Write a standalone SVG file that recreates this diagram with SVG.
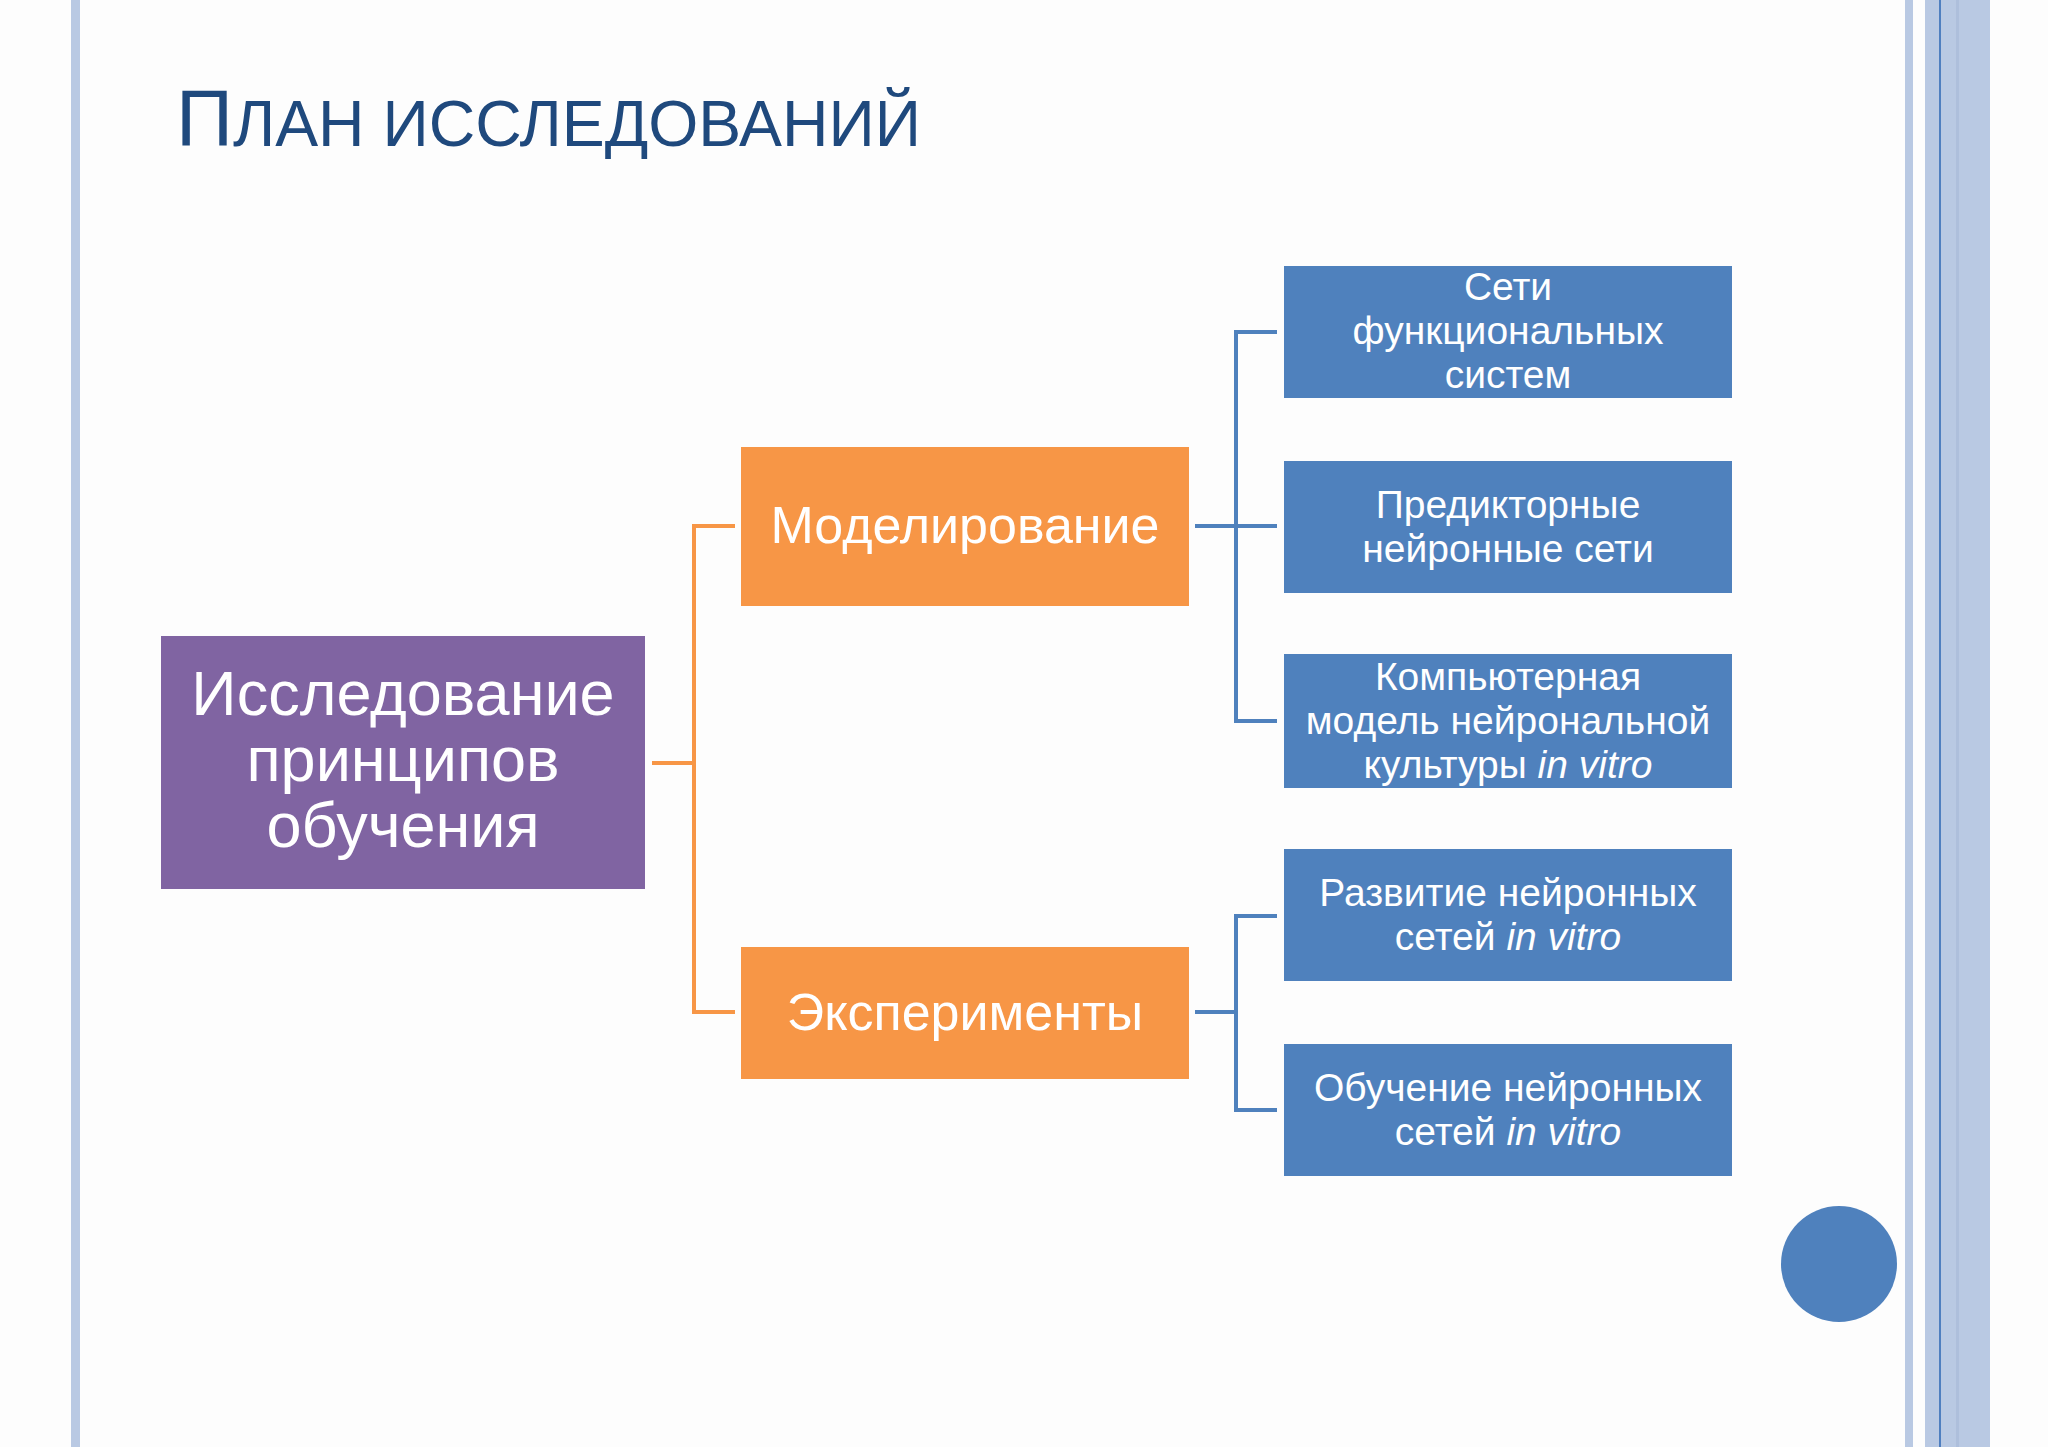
<svg xmlns="http://www.w3.org/2000/svg" width="2048" height="1447" viewBox="0 0 2048 1447">
<style>
.t{font-family:"Liberation Sans",Arial,sans-serif;fill:#fff;text-anchor:middle}
.b{font-size:39px}
.c{fill:none;stroke-width:4}
</style>
<rect width="2048" height="1447" fill="#fdfdfd"/>
<rect x="71" y="0" width="9" height="1447" fill="#b9c9e3"/>
<rect x="1905" y="0" width="8" height="1447" fill="#b9c9e3"/>
<rect x="1925" y="0" width="65" height="1447" fill="#b9c9e3"/>
<rect x="1939" y="0" width="2" height="1447" fill="#4f7fc0"/>
<rect x="1956" y="0" width="3" height="1447" fill="#aebfdc"/>
<text x="176" y="146" font-family="Liberation Sans,Arial,sans-serif" fill="#1f497d" textLength="745" lengthAdjust="spacingAndGlyphs"><tspan font-size="80">П</tspan><tspan font-size="65">ЛАН ИССЛЕДОВАНИЙ</tspan></text>
<g id="connectors">
<path class="c" stroke="#f79646" d="M652 763H694M735 526H694V1012H735"/>
<path class="c" stroke="#4f81bd" d="M1195 526H1277M1277 332H1236V721H1277M1195 1012H1236M1277 916H1236V1110H1277"/>
</g>
<g id="root"><rect x="161" y="636" width="484" height="253" fill="#8064a2"/>
<text class="t" font-size="63"><tspan x="403" y="715">Исследование</tspan><tspan x="403" y="781">принципов</tspan><tspan x="403" y="847">обучения</tspan></text></g>
<g id="model"><rect x="741" y="447" width="448" height="159" fill="#f79646"/>
<text class="t" font-size="52" x="965" y="543">Моделирование</text></g>
<g id="exp"><rect x="741" y="947" width="448" height="132" fill="#f79646"/>
<text class="t" font-size="52" x="965" y="1030">Эксперименты</text></g>
<g id="n1"><rect x="1284" y="266" width="448" height="132" fill="#4f81bd"/>
<text class="t b"><tspan x="1508" y="300">Сети</tspan><tspan x="1508" y="344">функциональных</tspan><tspan x="1508" y="388">систем</tspan></text></g>
<g id="n2"><rect x="1284" y="461" width="448" height="132" fill="#4f81bd"/>
<text class="t b"><tspan x="1508" y="518">Предикторные</tspan><tspan x="1508" y="562">нейронные сети</tspan></text></g>
<g id="n3"><rect x="1284" y="654" width="448" height="134" fill="#4f81bd"/>
<text class="t b"><tspan x="1508" y="690">Компьютерная</tspan><tspan x="1508" y="734">модель нейрональной</tspan><tspan x="1508" y="778">культуры <tspan font-style="italic">in vitro</tspan></tspan></text></g>
<g id="n4"><rect x="1284" y="849" width="448" height="132" fill="#4f81bd"/>
<text class="t b"><tspan x="1508" y="906">Развитие нейронных</tspan><tspan x="1508" y="950">сетей <tspan font-style="italic">in vitro</tspan></tspan></text></g>
<g id="n5"><rect x="1284" y="1044" width="448" height="132" fill="#4f81bd"/>
<text class="t b"><tspan x="1508" y="1101">Обучение нейронных</tspan><tspan x="1508" y="1145">сетей <tspan font-style="italic">in vitro</tspan></tspan></text></g>
<circle cx="1839" cy="1264" r="58" fill="#4f81bd"/>
</svg>
